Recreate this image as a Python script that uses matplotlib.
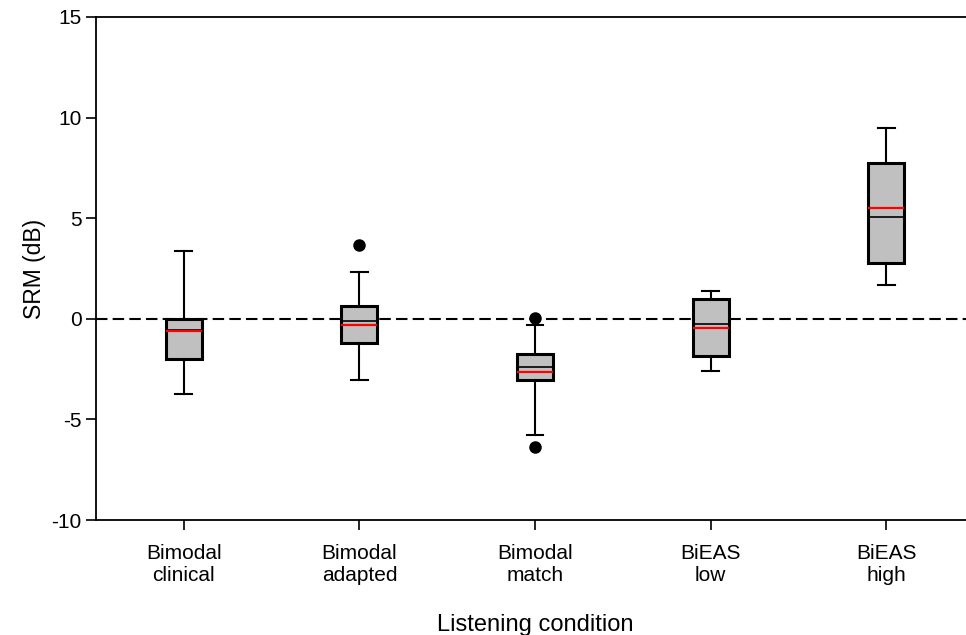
import matplotlib
matplotlib.use("Agg")
import matplotlib.pyplot as plt

plt.rcParams['font.family'] = ['Liberation Sans', 'DejaVu Sans']
plt.rcParams['axes.unicode_minus'] = False

# box stats (dB)
conditions = ["Bimodal\nclinical", "Bimodal\nadapted", "Bimodal\nmatch", "BiEAS\nlow", "BiEAS\nhigh"]
whisker_low = [-3.75, -3.04, -5.78, -2.58, 1.66]
q1 = [-2.01, -1.22, -3.04, -1.85, 2.79]
medians = [-0.55, -0.10, -2.38, -0.27, 5.07]
means = [-0.61, -0.31, -2.63, -0.44, 5.52]
q3 = [0.0, 0.64, -1.75, 0.98, 7.73]
whisker_high = [3.35, 2.33, -0.31, 1.38, 9.48]
outliers = [[], [3.65], [0.02, -6.36], [], []]

stats = []
for i in range(len(conditions)):
    stats.append({
        "whislo": whisker_low[i], "q1": q1[i], "med": medians[i],
        "mean": means[i], "q3": q3[i], "whishi": whisker_high[i],
        "fliers": outliers[i],
    })

fig = plt.figure(figsize=(9.66, 6.35), dpi=100)
ax = fig.add_axes([96 / 966, 115 / 635, 878 / 966, 503 / 635])

ax.axhline(0, color="black", lw=1.5, ls=(0, (5.5, 2.5)), zorder=1)

ax.bxp(stats, positions=range(1, 6), widths=0.205, capwidths=0.095,
       patch_artist=True, showmeans=True, meanline=True,
       boxprops=dict(facecolor="#c0c0c0", edgecolor="black", lw=2.2),
       whiskerprops=dict(color="black", lw=1.5),
       capprops=dict(color="black", lw=1.5),
       medianprops=dict(color="black", lw=1.2),
       meanprops=dict(color="red", lw=1.6, ls="-"),
       flierprops=dict(marker="o", markerfacecolor="black", markeredgecolor="black", markersize=8))

ax.set_xlim(0.5, 5.5)
ax.set_ylim(-10, 15)
ax.set_yticks([-10, -5, 0, 5, 10, 15])
ax.set_xticks(range(1, 6))
ax.set_xticklabels(conditions)
ax.tick_params(axis="both", direction="out", length=7, width=1.2, labelsize=15, colors="black")
ax.tick_params(axis="x", pad=10)

ax.spines["right"].set_visible(False)
for s in ["left", "top", "bottom"]:
    ax.spines[s].set_linewidth(1.3)

ax.set_xlabel("Listening condition", fontsize=17, labelpad=21)
ax.set_ylabel("SRM (dB)", fontsize=16.5, labelpad=4)

fig.savefig("out.png", dpi=100)
